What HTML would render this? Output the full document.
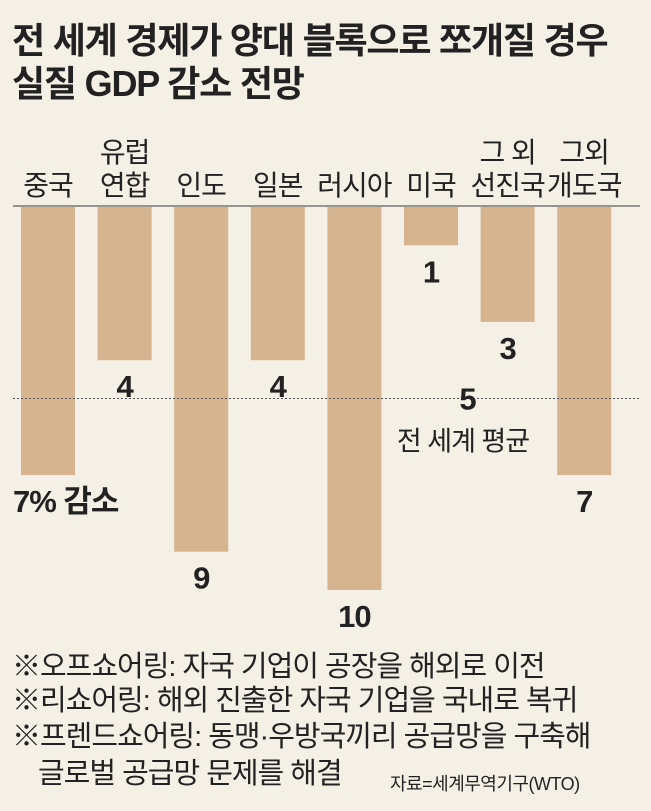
<!DOCTYPE html>
<html><head><meta charset="utf-8"><style>
body{margin:0;width:651px;height:811px;background:#f5f0e5;font-family:"Liberation Sans","Noto Sans CJK KR",sans-serif;color:#222;overflow:hidden;position:relative}
.t{position:absolute;left:12px;font-weight:bold;font-size:36px;letter-spacing:-1.2px;line-height:42px;white-space:nowrap}
.n{position:absolute;font-size:29px;line-height:32px;letter-spacing:-1px;white-space:nowrap}
</style></head><body>
<div class="t" style="top:20px">전 세계 경제가 양대 블록으로 쪼개질 경우</div>
<div class="t" style="top:63px">실질 GDP 감소 전망</div>
<svg id="c" width="651" height="640" style="position:absolute;left:0;top:0"></svg>
<div class="n" style="left:12px;top:651px">※오프쇼어링: 자국 기업이 공장을 해외로 이전</div>
<div class="n" style="left:12px;top:685px">※리쇼어링: 해외 진출한 자국 기업을 국내로 복귀</div>
<div class="n" style="left:12px;top:721px">※프렌드쇼어링: 동맹·우방국끼리 공급망을 구축해</div>
<div class="n" style="left:38px;top:758px">글로벌 공급망 문제를 해결</div>
<div style="position:absolute;left:390px;top:770px;font-size:18px;letter-spacing:-0.5px">자료=세계무역기구(WTO)</div>
<script>
const categories=[["중국"],["유럽","연합"],["인도"],["일본"],["러시아"],["미국"],["그 외","선진국"],["그외","개도국"]];
const values=[7,4,9,4,10,1,3,7];
const valueLabels=["7% 감소","4","9","4","10","1","3","7"];
const average=5;
const svg=document.getElementById('c');
const NS="http://www.w3.org/2000/svg";
const y0=207,unit=38.3,x0=21,step=76.6,bw=54;
const y=v=>y0+v*unit, x=i=>x0+i*step;
function mk(t,a){const e=document.createElementNS(NS,t);for(const k in a)e.setAttribute(k,a[k]);svg.appendChild(e);return e;}
values.forEach((v,i)=>{
 const r=mk('rect',{x:x(i),y:y0,width:bw,height:y(v)-y0,fill:'#d5b48f'});
 
 
 const cx=x(i)+bw/2;
 const lines=categories[i];
 lines.forEach((s,j)=>{
  const t=mk('text',{x:cx,y:195-(lines.length-1-j)*33,'text-anchor':'middle','font-size':28,'letter-spacing':-1,fill:'#222'});
  t.textContent=s;
  
  
 });
 const lx=i===0?x(i)-8:cx;
 const vl=mk('text',{x:lx,y:y(v)+37,'text-anchor':i===0?'start':'middle','font-size':31,'font-weight':'bold','letter-spacing':-1,fill:'#222'});
 vl.textContent=valueLabels[i];
 
 
});
const b=mk('line',{x1:13,x2:640,y1:y0-1,y2:y0-1,stroke:'#777','stroke-width':1.5});


const a=mk('line',{x1:13,x2:640,y1:y(average),y2:y(average),stroke:'#555','stroke-width':1,'stroke-dasharray':'2,2'});


const at=mk('text',{x:468,y:y(average)+11,'text-anchor':'middle','font-size':31,'font-weight':'bold',fill:'#222'});
at.textContent=String(average);


const al=mk('text',{x:463,y:y(average)+52,'text-anchor':'middle','font-size':27,'letter-spacing':-1,fill:'#222'});
al.textContent="전 세계 평균";


</script>
</body></html>
